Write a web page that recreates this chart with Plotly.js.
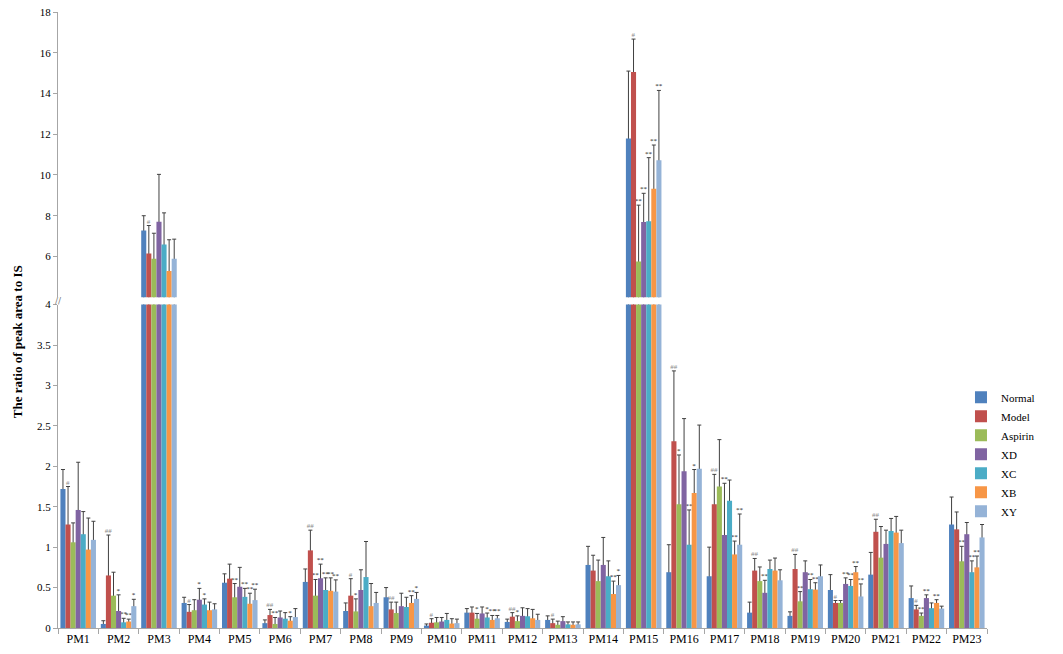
<!DOCTYPE html>
<html>
<head>
<meta charset="utf-8">
<script src="https://cdn.plot.ly/plotly-3.0.1.min.js"></script>
<style>
  html, body { margin: 0; padding: 0; background: #ffffff; }
  #chart { width: 1063px; height: 654px; }
</style>
</head>
<body>
<div id="chart"></div>
<script>
// ---------------- data ----------------
const categories = ['PM1','PM2','PM3','PM4','PM5','PM6','PM7','PM8','PM9','PM10','PM11','PM12',
                    'PM13','PM14','PM15','PM16','PM17','PM18','PM19','PM20','PM21','PM22','PM23'];

const seriesNames = ['Normal','Model','Aspirin','XD','XC','XB','XY'];

const normalMean  = [1.72,0.05,7.27,0.31,0.56,0.06,0.57,0.21,0.38,0.03,0.19,0.075,0.10,0.78,11.79,0.69,0.64,0.19,0.15,0.47,0.66,0.37,1.28];
const normalSD    = [0.24,0.04,0.73,0.07,0.11,0.04,0.16,0.10,0.12,0.02,0.05,0.035,0.05,0.23,3.31,0.34,0.36,0.13,0.05,0.19,0.275,0.15,0.34];
const normalSig   = ['','','','','','','','','','','','','','','','','','','','','','',''];

const modelMean   = [1.28,0.65,6.15,0.20,0.61,0.16,0.96,0.40,0.23,0.065,0.19,0.14,0.06,0.71,15.05,2.31,1.53,0.71,0.73,0.31,1.19,0.23,1.22];
const modelSD     = [0.47,0.50,1.37,0.09,0.18,0.07,0.25,0.21,0.09,0.05,0.07,0.05,0.05,0.19,1.62,0.87,0.37,0.15,0.18,0.03,0.155,0.05,0.215];
const modelSig    = ['#','##','#','#','','##','##','#','##','#','','##','#','','#','##','##','##','##','#','##','#',''];

const aspirinMean = [1.06,0.40,5.89,0.22,0.38,0.05,0.40,0.205,0.185,0.07,0.115,0.085,0.04,0.58,5.75,1.53,1.75,0.58,0.33,0.31,0.87,0.15,0.825];
const aspirinSD   = [0.24,0.29,1.25,0.13,0.17,0.08,0.20,0.155,0.135,0.06,0.065,0.065,0.045,0.26,2.77,0.61,0.58,0.175,0.12,0.03,0.385,0.035,0.185];
const aspirinSig  = ['','','','','**','**','**','*','','','*','*','','','**','*','','','**','','','**','**'];

const xdMean      = [1.46,0.21,7.70,0.35,0.51,0.13,0.615,0.47,0.27,0.08,0.18,0.15,0.085,0.78,7.69,1.94,1.15,0.435,0.69,0.545,1.04,0.37,1.16];
const xdSD        = [0.59,0.20,2.33,0.14,0.24,0.08,0.175,0.25,0.16,0.05,0.08,0.10,0.055,0.34,1.41,0.65,0.64,0.155,0.14,0.075,0.17,0.04,0.145];
const xdSig       = ['','*','','*','','','**','','','','','','','','**','','**','**','','**','','**',''];

const xcMean      = [1.16,0.07,6.59,0.29,0.385,0.115,0.47,0.63,0.26,0.10,0.13,0.145,0.045,0.64,7.73,1.03,1.575,0.73,0.48,0.52,1.20,0.245,0.69];
const xcSD        = [0.28,0.05,1.55,0.07,0.105,0.075,0.15,0.44,0.12,0.08,0.055,0.095,0.03,0.19,3.12,0.43,0.255,0.11,0.12,0.08,0.155,0.065,0.14];
const xcSig       = ['','**','','*','**','','**','','','','*','','','','**','**','','','**','**','','','**'];

const xbMean      = [0.97,0.08,5.29,0.22,0.30,0.09,0.46,0.27,0.31,0.055,0.10,0.12,0.04,0.42,9.32,1.67,0.91,0.71,0.475,0.69,1.18,0.31,0.75];
const xbSD        = [0.39,0.03,1.53,0.10,0.13,0.05,0.16,0.28,0.09,0.06,0.055,0.11,0.035,0.16,2.15,0.29,0.165,0.155,0.085,0.07,0.20,0.04,0.14];
const xbSig       = ['','**','','','**','*','**','','**','','**','','','**','**','*','**','','**','**','','**','**'];

const xyMean      = [1.09,0.27,5.89,0.23,0.345,0.135,0.45,0.31,0.36,0.06,0.12,0.10,0.045,0.53,10.72,1.97,1.03,0.59,0.64,0.39,1.05,0.24,1.12];
const xySD        = [0.23,0.085,0.96,0.07,0.135,0.105,0.145,0.13,0.08,0.05,0.035,0.07,0.03,0.12,3.43,0.54,0.38,0.13,0.14,0.155,0.16,0.03,0.16];
const xySig       = ['','*','','','**','','**','','*','','**','','','*','**','','**','','','**','','',''];

const lowerTicks = [0,0.5,1,1.5,2,2.5,3,3.5,4];
const upperTicks = [6,8,10,12,14,16,18];
const breakValue = 4;

// ---------------- styling ----------------
const colors = ['#4F81BD','#C0504D','#9BBB59','#8064A2','#4BACC6','#F79646','#95B3D7'];
const means = [normalMean, modelMean, aspirinMean, xdMean, xcMean, xbMean, xyMean];
const sds   = [normalSD, modelSD, aspirinSD, xdSD, xcSD, xbSD, xySD];
const sigs  = [normalSig, modelSig, aspirinSig, xdSig, xcSig, xbSig, xySig];

const FONT = 'Liberation Serif, Times New Roman, serif';
const errColor = '#404040';

const traces = [];
['y','y2'].forEach(function(axis) {
  // error-bar carriers (transparent bars reaching mean+SD), drawn first
  seriesNames.forEach(function(name, i) {
    const tops = means[i].map(function(m, k) { return m + sds[i][k]; });
    // a label is shown only in the panel where its error bar ends
    const labels = sigs[i].map(function(t, k) {
      const inUpper = tops[k] > breakValue;
      return (axis === 'y2') === inUpper ? t : '';
    });
    traces.push({
      type: 'bar', x: categories, y: tops, yaxis: axis,
      offsetgroup: name, showlegend: false, hoverinfo: 'skip',
      marker: { color: 'rgba(0,0,0,0)', line: { width: 0 } },
      error_y: { type: 'data', symmetric: false,
                 array: tops.map(function() { return 0; }),
                 arrayminus: tops, color: errColor, thickness: 1, width: 2 },
      text: labels, textposition: 'outside', textangle: 0,
      constraintext: 'none', cliponaxis: true,
      textfont: { family: FONT, size: 7,
                  color: labels.map(function(t) { return t.indexOf('#') >= 0 ? '#8a8a8a' : '#1a1a1a'; }) }
    });
  });
  // real bars
  seriesNames.forEach(function(name, i) {
    traces.push({
      type: 'bar', x: categories, y: means[i], yaxis: axis,
      offsetgroup: name, name: name, legendgroup: name,
      showlegend: axis === 'y', hoverinfo: 'x+y+name',
      marker: { color: colors[i], line: { width: 0 } }
    });
  });
});

const axisCommon = {
  showline: true, linecolor: '#a6a6a6', linewidth: 1,
  ticks: 'outside', ticklen: 4, tickcolor: '#a6a6a6',
  showgrid: false, zeroline: false,
  tickfont: { family: FONT, size: 11, color: '#000' }
};

const layout = {
  width: 1063, height: 654,
  margin: { l: 58, r: 76, t: 12, b: 26 },
  paper_bgcolor: '#ffffff', plot_bgcolor: '#ffffff',
  barmode: 'group', bargap: 0.12, bargroupgap: 0,
  font: { family: FONT, color: '#000' },
  showlegend: true,
  legend: { x: 0.972, xanchor: 'left', y: 0.398, yanchor: 'top',
            font: { family: FONT, size: 11, color: '#000' },
            bgcolor: 'rgba(0,0,0,0)', itemwidth: 30, tracegroupgap: 0 },
  xaxis: Object.assign({}, axisCommon, {
    type: 'category', tickson: 'boundaries', ticklen: 5,
    tickfont: { family: FONT, size: 12, color: '#000' },
    anchor: 'y'
  }),
  yaxis: Object.assign({}, axisCommon, {
    domain: [0, 0.525], range: [0, 4], tickvals: lowerTicks, anchor: 'x'
  }),
  yaxis2: Object.assign({}, axisCommon, {
    domain: [0.537, 1], range: [4, 18], tickvals: upperTicks, anchor: 'x'
  }),
  annotations: [
    { text: '<b>The ratio of peak area to IS</b>', xref: 'paper', yref: 'paper',
      x: 0, y: 0.464, xshift: -41, xanchor: 'center', yanchor: 'middle',
      textangle: -90, showarrow: false, font: { family: FONT, size: 13, color: '#000' } },
    { text: '//', xref: 'paper', yref: 'paper', x: 0, y: 0.531,
      xanchor: 'center', yanchor: 'middle', showarrow: false,
      font: { family: 'DejaVu Sans, sans-serif', size: 9, color: '#7f7f7f' } }
  ]
};

Plotly.newPlot('chart', traces, layout, { displayModeBar: false, staticPlot: true });
</script>
</body>
</html>
